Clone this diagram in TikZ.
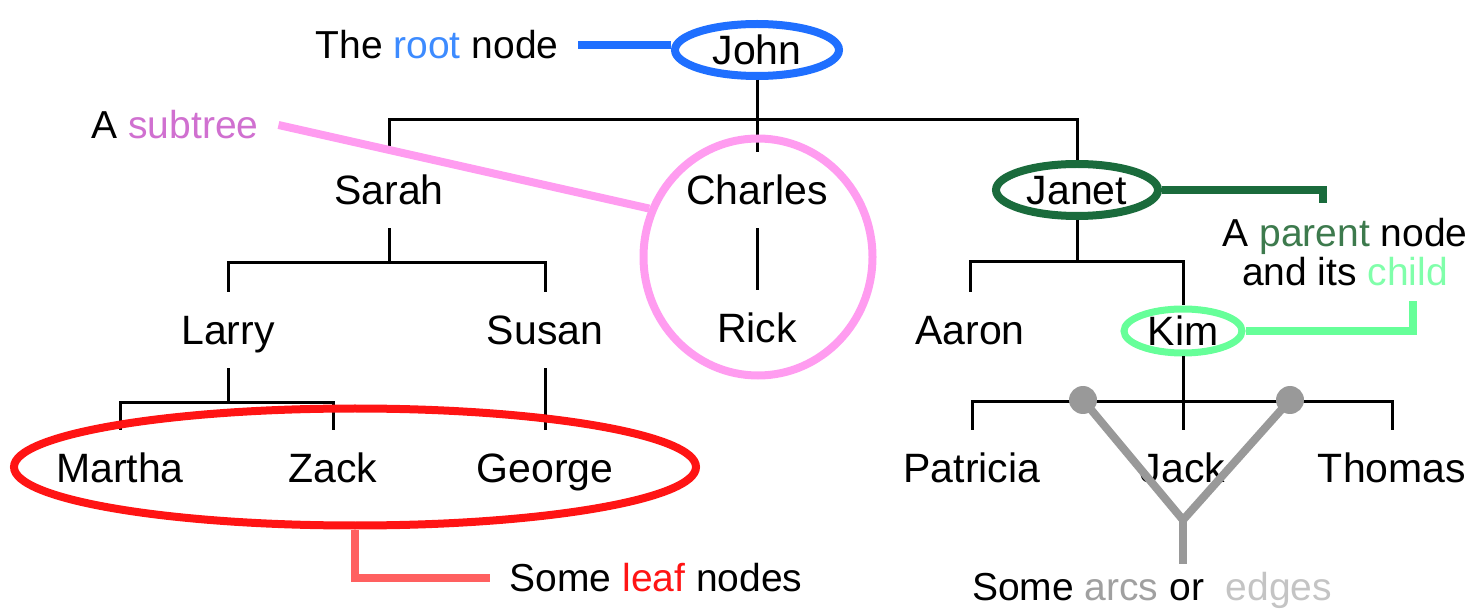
\documentclass[tikz,border=0pt]{standalone}
\usepackage{fontspec}
\setmainfont{Liberation Sans}
\usetikzlibrary{shapes.geometric}

\definecolor{rootblue}{HTML}{1F6FFF}
\definecolor{roottext}{HTML}{3D8BFF}
\definecolor{subpink}{HTML}{FF9CF0}
\definecolor{subtext}{HTML}{D070D0}
\definecolor{parentgreen}{HTML}{1A6B3C}
\definecolor{parenttext}{HTML}{3D7A4D}
\definecolor{childgreen}{HTML}{66FF99}
\definecolor{childtext}{HTML}{80FFAA}
\definecolor{leafred}{HTML}{FF1414}
\definecolor{leafline}{HTML}{FF6060}
\definecolor{arcgray}{HTML}{999999}
\definecolor{arctext}{HTML}{A0A0A0}
\definecolor{edgetext}{HTML}{C4C4C4}

\tikzset{
  branch/.style={draw=black,line width=1.5pt},
  pointer/.style={line width=4pt},
  note/.style={font=\fontsize{19.5}{16.5}\selectfont,inner sep=0pt,outer xsep=10pt}
}

\begin{document}
\begin{tikzpicture}[x=0.5pt,y=-0.5pt]
  \useasboundingbox (0,0) rectangle (1474,609);

  \begin{scope}[every node/.style={font=\fontsize{20.5}{24}\selectfont,inner sep=0pt,
      minimum height=38pt,text height=14.7pt,text depth=0pt}]
    \node (Sarah) at (389,190) {Sarah};
    \node (Charles) at (757,190) {Charles};
    \node (Larry) at (228,330) {Larry};
    \node (Susan) at (545,330) {Susan};
    \node (Rick) at (757,328) {Rick};
    \node (Aaron) at (970,330) {Aaron};
    \node (Martha) at (120,468) {Martha};
    \node (Zack) at (333,468) {Zack};
    \node (George) at (545,468) {George};
    \node (Patricia) at (972,468) {Patricia};
    \node (Jack) at (1183,468) {Jack};
    \node (Thomas) at (1392,468) {Thomas};
  \end{scope}

  \begin{scope}[every node/.style={ellipse,draw,line width=4pt,fill=white,
      font=\fontsize{20.5}{24}\selectfont,inner sep=0pt,text height=14.7pt,text depth=0pt}]
    \node[draw=rootblue,minimum width=82pt,minimum height=26pt] (John) at (757,50) {John};
    \node[draw=parentgreen,minimum width=81pt,minimum height=26pt] (Janet) at (1077,190) {Janet};
    \node[draw=childgreen,line width=3.5pt,minimum width=59pt,minimum height=22pt] (Kim) at (1183,331) {Kim};
  \end{scope}

  \begin{scope}[branch]
    \draw (John.south) -- ++(0,40) -| (Sarah.north);
    \draw (John.south) -- ++(0,40) -| (Janet.north);
    \draw (John.south) -- (Charles.north);
    \draw (Charles.south) -- (Rick.north);
    \draw (Sarah.south) -- ++(0,34) -| (Larry.north);
    \draw (Sarah.south) -- ++(0,34) -| (Susan.north);
    \draw (Larry.south) -- ++(0,34) -| (Martha.north);
    \draw (Larry.south) -- ++(0,34) -| (Zack.north);
    \draw (Susan.south) -- (George.north);
    \draw (Janet.south) -- ++(0,42) -| (Aaron.north);
    \draw (Janet.south) -- ++(0,42) -| (Kim.north);
    \draw (Kim.south) -- ++(0,45) -| (Patricia.north);
    \draw (Kim.south) -- ++(0,45) -| (Thomas.north);
    \draw (Kim.south) -- (Jack.north);
  \end{scope}

  \node[note] (rootlbl) at (437,45) {The \textcolor{roottext}{root} node};
  \node[note] (sublbl) at (175,125) {A \textcolor{subtext}{subtree}};
  \node[note,align=center,outer ysep=8pt] (parentlbl) at (1345,252)
    {A \textcolor{parenttext}{parent} node\\and its \textcolor{childtext}{child}};
  \node[note] (leaflbl) at (656,578) {Some \textcolor{leafred}{leaf} nodes};
  \node[note,outer ysep=4pt] (arcslbl) at (1152,590)
    {Some \textcolor{arctext}{arcs} or \ \textcolor{edgetext}{edges}};

  \begin{scope}[every node/.style={ellipse,line width=4pt,inner sep=0pt}]
    \node[draw=subpink,minimum width=114.5pt,minimum height=118.5pt] (Subtree) at (758,257) {};
    \node[draw=leafred,minimum width=341pt,minimum height=58.5pt] (Leaves) at (355,467) {};
  \end{scope}

  \draw[pointer,rootblue] (rootlbl.east) -- (rootlbl.east -| John.west);
  \draw[pointer,subpink] (sublbl.east) -- (Subtree.156);
  \draw[pointer,parentgreen] (Janet.east) -| ([xshift=-11pt]parentlbl.north);
  \draw[pointer,childgreen] (Kim.east) -| ([xshift=34pt]parentlbl.south);
  \draw[pointer,leafline] (Leaves.south) |- (leaflbl.west);

  \begin{scope}[arcgray]
    \node[circle,fill,inner sep=0pt,minimum size=14pt] (ArcL) at (1083,400) {};
    \node[circle,fill,inner sep=0pt,minimum size=14pt] (ArcR) at (1290,400) {};
    \coordinate (Fork) at (1183,520);
    \draw[pointer] (ArcL.center) -- (Fork) -- (ArcR.center);
    \draw[pointer] (Fork) -- (Fork |- arcslbl.north);
  \end{scope}
\end{tikzpicture}
\end{document}
